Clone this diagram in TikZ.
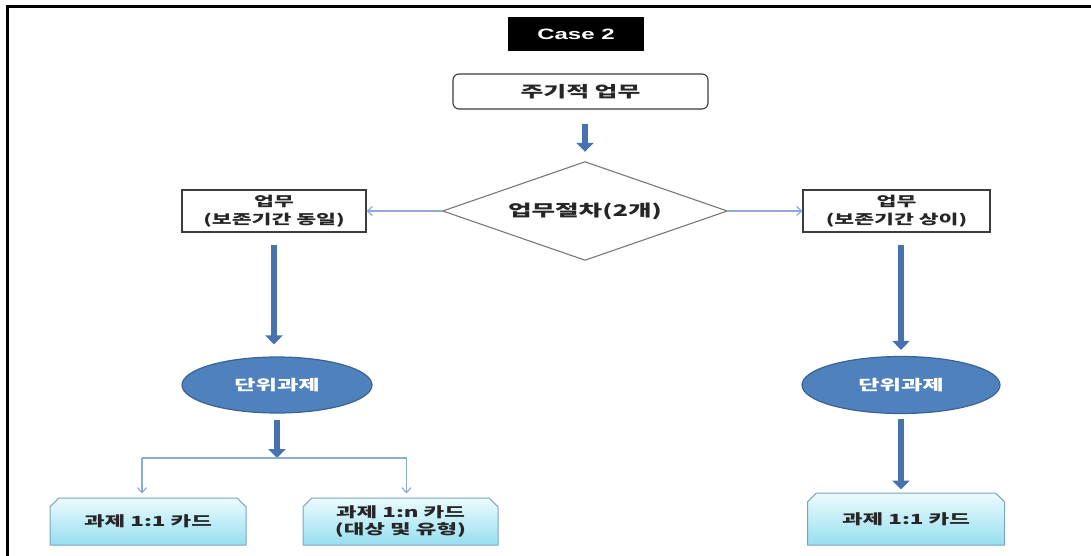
\documentclass[tikz,border=0pt]{standalone}
\usepackage{fontspec}
\newfontfamily\kr[FakeStretch=1.6]{Noto Sans CJK KR}
\newfontfamily\arial[FakeStretch=1.6]{Liberation Sans}
\usetikzlibrary{arrows.meta,shapes.geometric,shapes.misc}
\definecolor{arrowblue}{RGB}{70,114,176}
\definecolor{ellfill}{RGB}{79,129,189}
\definecolor{elldraw}{RGB}{59,100,148}
\definecolor{thinblue}{RGB}{140,172,214}
\definecolor{cardtop}{RGB}{236,251,254}
\definecolor{cardbot}{RGB}{150,222,240}
\definecolor{carddraw}{RGB}{125,165,190}
\definecolor{boxdraw}{RGB}{60,60,60}
\definecolor{diadraw}{RGB}{120,120,120}
\tikzset{
  casebox/.style={fill=black,text=white,minimum width=136pt,minimum height=34pt,inner sep=0pt,font=\arial\bfseries\fontsize{15}{17}\selectfont},
  roundbox/.style={draw=boxdraw,line width=1.1pt,rounded corners=6pt,minimum width=255pt,minimum height=35pt,inner sep=0pt,text=black!85,font=\kr\bfseries\fontsize{15.5}{18}\selectfont},
  diatext/.style={shape=rectangle,minimum width=284pt,minimum height=98pt,inner sep=0pt,text=black!85,font=\kr\bfseries\fontsize{16}{20}\selectfont},
  diaedge/.style={draw=diadraw,line width=1.1pt},
  plainbox/.style={draw=boxdraw,line width=1.1pt,inner sep=0pt,align=center,text=black!85,font=\kr\bfseries\fontsize{13.5}{18}\selectfont},
  unitell/.style={ellipse,fill=ellfill,draw=elldraw,line width=1.2pt,inner sep=0pt,text=white,font=\kr\bfseries\fontsize{14.5}{16}\selectfont},
  card/.style={chamfered rectangle,chamfered rectangle corners={north west,north east},chamfered rectangle xsep=6pt,
    top color=cardtop,bottom color=cardbot,draw=carddraw,line width=1pt,inner sep=0pt,align=center,text=black!85,
    font=\kr\bfseries\fontsize{14}{17}\selectfont},
  fat/.style={draw=arrowblue,line width=6pt,-{Triangle[length=9pt,width=17pt]}},
  thinline/.style={draw=thinblue,line width=1.2pt},
  thinarr/.style={draw=thinblue,line width=1.2pt,-{Straight Barb[length=5pt,width=9pt]}}
}
\begin{document}
\begin{tikzpicture}[x=1pt,y=-1pt]
\useasboundingbox (0,0) rectangle (1091,556);
\fill[white] (0,0) rectangle (1091,556);
\draw[line width=3pt] (1091,6.5) -- (7.5,6.5) -- (7.5,556);

\node[casebox] (case) at (576,34) {Case 2};
\node[roundbox] (top) at (580.5,91.5) {주기적 업무};
\node[diatext] (dia) at (585,211) {업무절차(2개)};
\draw[diaedge] (dia.north) -- (dia.east) -- (dia.south) -- (dia.west) -- cycle;

\node[plainbox,minimum width=184pt,minimum height=42pt] (lbox) at (274,211) {업무\\(보존기간 동일)};
\node[plainbox,minimum width=187pt,minimum height=42pt] (rbox) at (896.5,211) {업무\\(보존기간 상이)};

\node[unitell,minimum width=190pt,minimum height=56pt] (lell) at (277,385) {단위과제};
\node[unitell,minimum width=198pt,minimum height=57pt] (rell) at (901,385) {단위과제};

\node[card,minimum width=196pt,minimum height=47pt] (c1) at (148,521.5) {과제 1:1 카드};
\node[card,minimum width=195pt,minimum height=47pt] (c2) at (400.5,521.5) {과제 1:n 카드\\(대상 및 유형)};
\node[card,minimum width=197pt,minimum height=52pt] (c3) at (906,519) {과제 1:1 카드};

\coordinate (j) at (273,458);
\coordinate (j1) at ([xshift=-6pt]c1.north);
\coordinate (j2) at ([xshift=6pt]c2.north);

\draw[fat,shorten <=14pt,shorten >=10pt] (dia.north |- top.south) -- (dia.north);
\draw[thinarr] (dia.west) -- (lbox.east);
\draw[thinarr] (dia.east) -- (rbox.west);
\draw[fat,shorten <=12pt,shorten >=12pt] (lbox.south) -- (lbox.south |- lell.north);
\draw[fat,shorten <=12pt,shorten >=6pt] (rell.north |- rbox.south) -- (rell.north);
\draw[fat,shorten <=6pt] (lell.south) -- (lell.south |- j);
\draw[thinline] (j1 |- j) -- (j2 |- j);
\draw[thinarr,shorten >=4pt] (j1 |- j) -- (j1);
\draw[thinarr,shorten >=4pt] (j2 |- j) -- (j2);
\draw[fat,shorten <=5pt,shorten >=3pt] (rell.south) -- (rell.south |- c3.north);
\end{tikzpicture}
\end{document}
